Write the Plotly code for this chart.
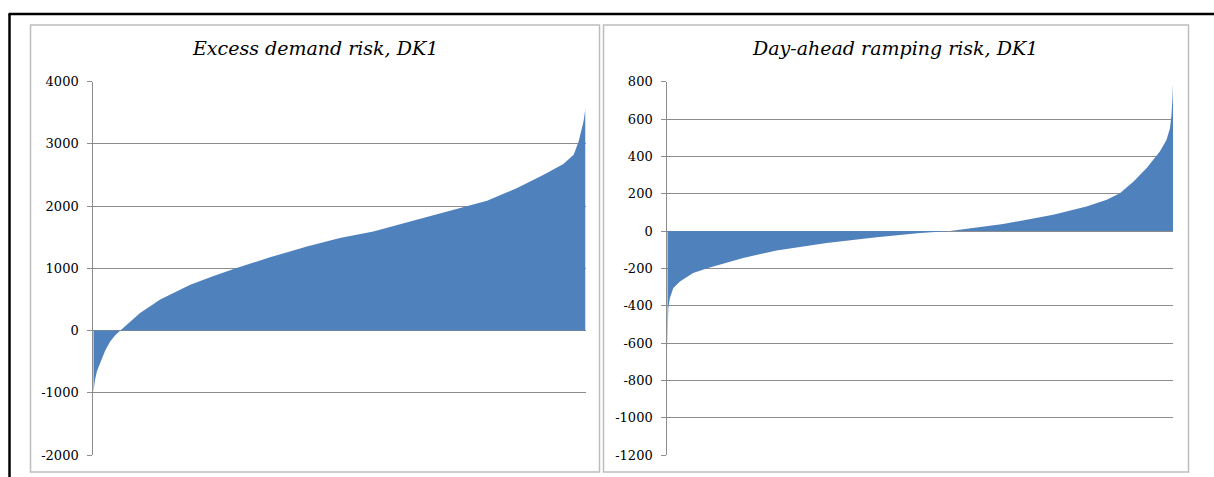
import plotly.graph_objects as go

# ---- data ----
excess_pct = [0, 0.14, 0.35, 0.75, 1.36, 2.38, 3.4, 4.4, 5.5, 9.5, 13.6, 19.7, 24.3, 29.1,
              35.9, 43.4, 50.1, 56.9, 65.7, 76.6, 80.0, 86.1, 91.5, 95.5, 97.6, 98.6, 99.6, 100]
excess_val = [-1000, -880, -790, -650, -540, -330, -180, -80, 0, 284, 498, 738, 872, 1006,
              1177, 1353, 1488, 1594, 1782, 2006, 2087, 2290, 2504, 2676, 2825, 3039, 3360, 3575]

ramp_pct = [0, 0.2, 0.53, 1.19, 2.5, 5.1, 8.4, 15.0, 21.6, 31.5, 41.4, 50.0, 55.9, 66.4,
            76.3, 82.9, 86.9, 89.5, 92.2, 94.8, 97.4, 98.7, 99.4, 99.7, 99.9, 100]
ramp_val = [-650, -412, -358, -305, -270, -225, -195, -144, -104, -64, -34, -11, 0, 37,
            87, 132, 167, 203, 265, 337, 426, 488, 551, 622, 711, 790]

titles = ["Excess demand risk, DK1", "Day-ahead ramping risk, DK1"]
left_ticks = [4000, 3000, 2000, 1000, 0, -1000, -2000]
right_ticks = [800, 600, 400, 200, 0, -200, -400, -600, -800, -1000, -1200]

W, H = 1214, 477
FILL = "#4f81bd"
GRID = "#8c8c8c"
FONT = "DejaVu Serif"

def px(x):
    return x / W

def py(y):
    return 1 - y / H

fig = go.Figure()
fig.add_trace(go.Scatter(x=excess_pct, y=excess_val, mode="lines", fill="tozeroy",
                         fillcolor=FILL, line=dict(width=0, color=FILL),
                         xaxis="x", yaxis="y", showlegend=False, hoverinfo="skip"))
fig.add_trace(go.Scatter(x=ramp_pct, y=ramp_val, mode="lines", fill="tozeroy",
                         fillcolor=FILL, line=dict(width=0, color=FILL),
                         xaxis="x2", yaxis="y2", showlegend=False, hoverinfo="skip"))

ydom = [py(455), py(81.7)]
xcommon = dict(range=[0, 100], showgrid=False, showticklabels=False, zeroline=False,
               showline=False, ticks="", fixedrange=True, automargin=False)
ycommon = dict(showgrid=True, gridcolor=GRID, gridwidth=1, zeroline=False,
               showline=True, linecolor=GRID, linewidth=1, ticks="outside",
               ticklen=5, tickcolor=GRID, tickwidth=1, ticklabelstandoff=6,
               automargin=False, fixedrange=True,
               tickfont=dict(family=FONT, size=13, color="#000"), domain=ydom)

fig.update_layout(
    width=W, height=H, margin=dict(l=0, r=0, t=0, b=0, pad=0, autoexpand=False),
    paper_bgcolor="white", plot_bgcolor="white", showlegend=False,
    xaxis=dict(domain=[px(93.3), px(585.5)], anchor="y", **xcommon),
    yaxis=dict(range=[-2000, 4000], tickvals=left_ticks,
               ticktext=[str(v) for v in left_ticks], anchor="x", **ycommon),
    xaxis2=dict(domain=[px(667.3), px(1173)], anchor="y2", **xcommon),
    yaxis2=dict(range=[-1200, 800], tickvals=right_ticks,
                ticktext=[str(v) for v in right_ticks], anchor="x2", **ycommon),
)

# titles
for t, cx in zip(titles, [315, 895]):
    fig.add_annotation(text="<i>" + t + "</i>", xref="paper", yref="paper",
                       x=px(cx), y=py(48), xanchor="center", yanchor="middle",
                       showarrow=False, font=dict(family=FONT, size=19, color="#000"))

# panel borders
for x0, x1 in [(30.5, 599.5), (603.5, 1188.5)]:
    fig.add_shape(type="rect", xref="paper", yref="paper",
                  x0=px(x0), x1=px(x1), y0=py(472), y1=py(25),
                  line=dict(color="#bdbdbd", width=1.5), fillcolor="rgba(0,0,0,0)")

# outer black frame (top and left)
fig.add_shape(type="line", xref="paper", yref="paper",
              x0=px(8.5), x1=1, y0=py(14), y1=py(14), line=dict(color="#000", width=2.5))
fig.add_shape(type="line", xref="paper", yref="paper",
              x0=px(9.5), x1=px(9.5), y0=0, y1=py(14), line=dict(color="#000", width=2.5))

fig.write_html("out.html", config={"displayModeBar": False},
               post_script="document.body.style.margin='0px';")
